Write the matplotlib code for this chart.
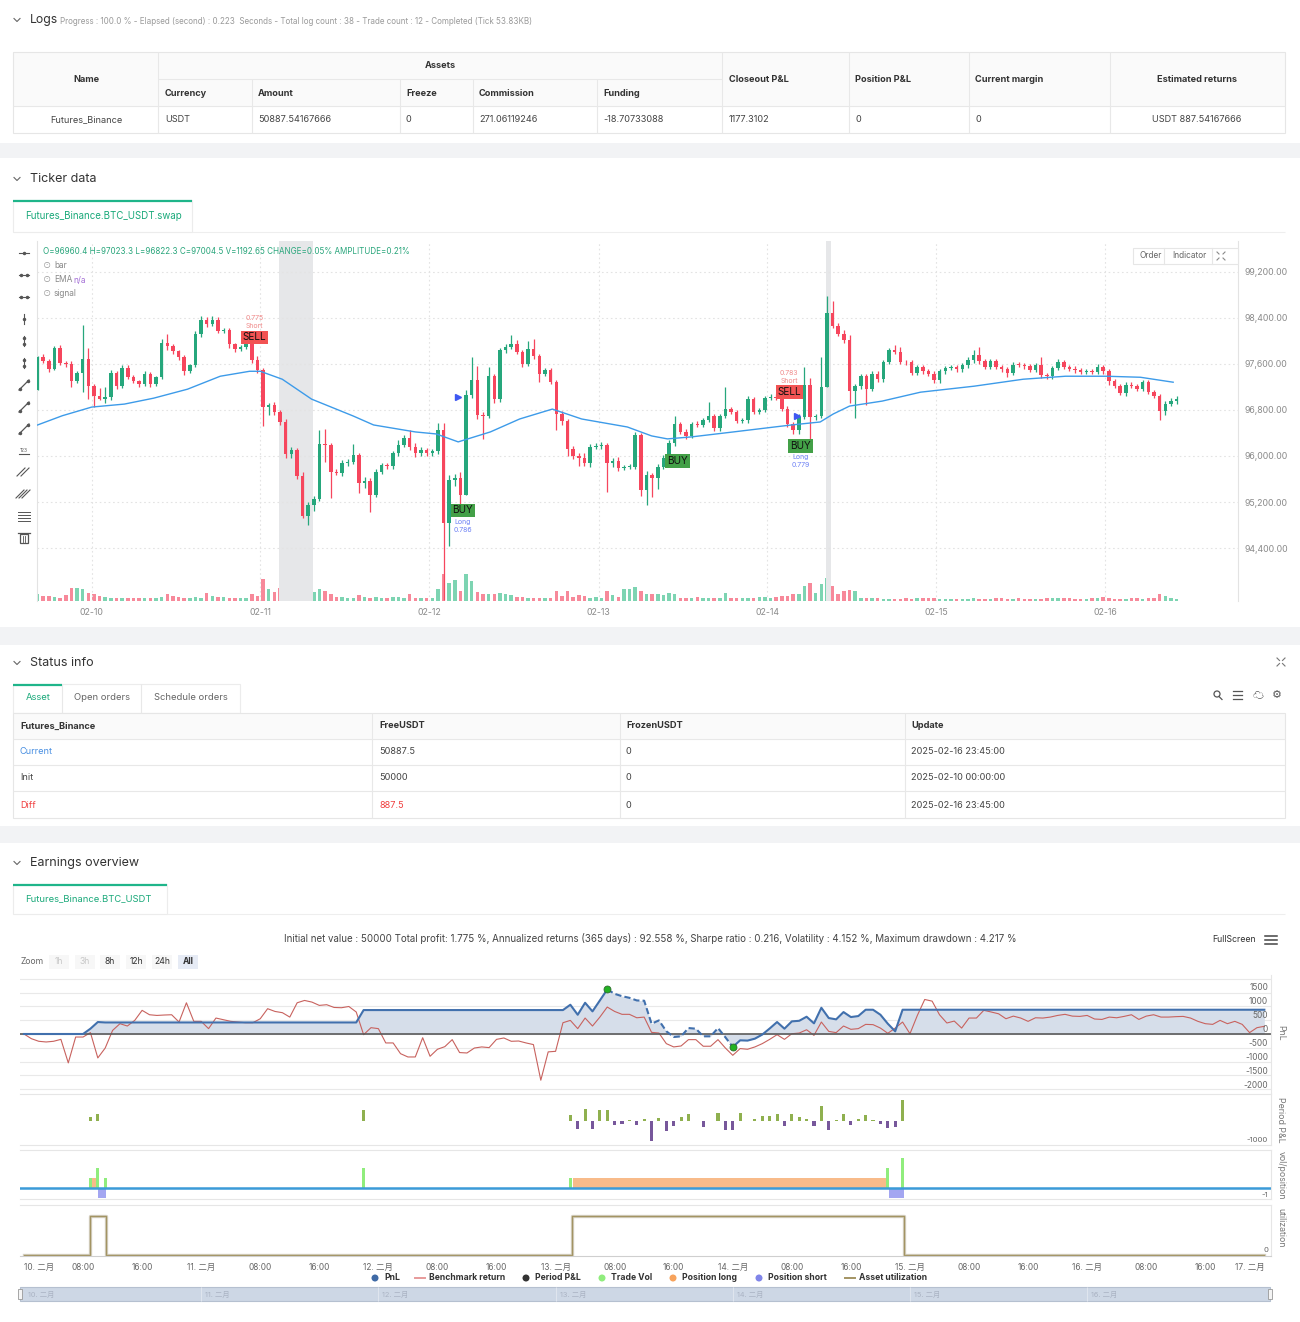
import matplotlib
matplotlib.use('Agg')
import matplotlib.pyplot as plt
from matplotlib.patches import Rectangle, Circle
import numpy as np

plt.rcParams['font.family'] = ['Inter', 'Noto Sans CJK SC', 'DejaVu Sans']

W, H = 1300, 1322

# ---------------- candle data (one bar per ~48 min, 02-10 .. 02-16) ----------------
first_open = 97142
closes = [97719, 97650, 97517, 97875, 97615, 97592, 97304, 97448, 97679, 97217,
          97038, 96998, 97021, 97448, 97217, 97535, 97379, 97304, 97246, 97431,
          97246, 97373, 97967, 97910, 97817, 97714, 97483, 97575, 98112, 98371,
          98302, 98371, 98169, 98192, 97939, 97852, 97892, 97990, 97662, 97488,
          96854,
          96894, 96767, 96583, 96029, 96104, 95654, 94961, 95152, 95250, 96202,
          96190, 95729, 95711, 95873, 95902, 96017, 95527, 95567, 95325, 95729,
          95844, 95827, 96046, 96190, 96317, 96161, 96046, 96104, 96046, 96086,
          96450, 94834, 95584, 95625, 95325, 97056, 97315, 96710, 96700, 97390,
          96986, 97835, 97892, 97950, 97806, 97604, 97852, 97737, 97431, 97488,
          97287, 96721, 96606, 96121, 96006, 95971, 95873, 96161, 96179, 96190,
          95873, 95919, 95798, 95809, 95815, 96363, 95411, 95671,
          95613, 95815, 95971, 96219, 96548, 96421, 96352, 96548, 96540, 96623,
          96698, 96479, 96698, 96808, 96767, 96606, 96617, 96986, 96767, 96796,
          97009, 97021, 97015, 96825, 96548, 96450, 96681, 97229, 96681, 96698,
          97200, 98487, 98267, 98123, 98008, 97125, 97217, 97390, 97171, 97431,
          97333, 97633, 97835, 97806, 97633, 97628, 97448, 97546, 97471, 97431,
          97315, 97471, 97529, 97546, 97506, 97575, 97662, 97748, 97644, 97546,
          97644, 97546, 97506, 97448, 97587, 97580, 97558, 97500, 97575, 97402,
          97385, 97529, 97633, 97546, 97517, 97488, 97460, 97471, 97460, 97546,
          97471, 97298, 97217, 97102, 97240, 97217, 97171, 97287, 97113, 97044,
          96779, 96911, 96952, 96998]
up_wick = [20, 60, 30, 40, 50, 30, 60, 30, 600, 200,
           40, 150, 180, 40, 30, 50, 40, 30, 20, 40,
           30, 20, 60, 150, 40, 30, 40, 30, 60, 60,
           40, 60, 40, 30, 40, 30, 40, 60, 30, 80,
           40,
           30, 50, 40, 60, 50, 40, 60, 50, 60, 250,
           260, 40, 40, 60, 40, 185, 40, 60, 50, 40,
           40, 40, 40, 80, 40, 130, 60, 60, 40, 40,
           130, 120, 80, 60, 100, 90, 400, 250, 60, 150,
           40, 40, 60, 145, 60, 40, 150, 185, 40, 40,
           40, 40, 60, 40, 60, 40, 80, 40, 40, 60,
           40, 40, 60, 40, 40, 60, 40, 60,
           40, 40, 40, 60, 150, 40, 40, 40, 60, 40,
           240, 40, 40, 390, 40, 40, 40, 60, 40, 40,
           40, 60, 60, 40, 40, 40, 40, 320, 125, 40,
           520, 300, 210, 50, 60, 90, 40, 40, 40, 40,
           40, 40, 40, 90, 80, 40, 40, 40, 40, 40,
           40, 40, 40, 40, 40, 40, 60, 100, 145, 40,
           40, 40, 40, 40, 40, 40, 40, 40, 40, 150,
           40, 40, 60, 40, 40, 40, 40, 40, 40, 60,
           40, 40, 40, 40, 40, 40, 40, 40, 40, 40,
           40, 40, 60, 50]
dn_wick = [0, 40, 60, 30, 30, 40, 100, 40, 330, 220,
           180, 30, 80, 40, 60, 40, 40, 30, 40, 30,
           40, 30, 30, 60, 50, 40, 70, 40, 30, 50,
           60, 40, 40, 30, 60, 40, 30, 40, 40, 40,
           330,
           140, 60, 40, 60, 60, 60, 40, 160, 100, 40,
           300, 460, 40, 60, 50, 40, 175, 80, 290, 40,
           40, 60, 60, 40, 40, 60, 60, 40, 40, 40,
           60, 1330, 400, 100, 170, 0, 40, 60, 400, 40,
           60, 40, 40, 40, 40, 60, 40, 60, 150, 40,
           40, 270, 60, 120, 60, 150, 40, 60, 40, 60,
           500, 60, 60, 40, 40, 40, 115, 260,
           320, 180, 40, 40, 40, 40, 60, 40, 40, 40,
           40, 40, 40, 40, 40, 40, 40, 40, 40, 40,
           40, 40, 40, 40, 40, 60, 60, 40, 430, 60,
           40, 0, 40, 40, 40, 200, 470, 60, 280, 40,
           40, 40, 40, 40, 40, 40, 40, 40, 40, 40,
           40, 40, 40, 40, 40, 40, 40, 40, 40, 40,
           40, 40, 40, 80, 40, 40, 40, 40, 40, 40,
           40, 40, 40, 40, 40, 40, 40, 40, 40, 40,
           40, 60, 40, 50, 60, 40, 40, 40, 40, 40,
           160, 60, 40, 40]
volumes = [4000, 3000, 3000, 2400, 2000, 3600, 8000, 8000, 7000, 5000,
           4400, 3000, 2400, 2000, 1600, 1600, 1600, 1600, 1600, 2000,
           1600, 1600, 2400, 4400, 3000, 2400, 2000, 1600, 2400, 2000,
           5000, 3000, 2400, 2400, 2000, 2000, 1600, 1600, 4400, 3000,
           13000,
           7000, 5600, 8000, 5000, 8400, 9000, 8400, 6000, 5600, 7000,
           6000, 4000, 2400, 2400, 2000, 2000, 3600, 2400, 1600, 2400,
           2000, 1600, 2400, 2400, 1600, 4000, 2000, 1600, 2000, 2000,
           7000, 16000, 11000, 12400, 6000, 16400, 12000, 5600, 4400, 4000,
           4400, 5000, 4000, 3600, 2400, 2400, 1600, 1600, 2000, 1600,
           2000, 6000, 3000, 6000, 2400, 3600, 3000, 2000, 2400, 1600,
           6000, 3600, 2400, 7000, 7000, 8400, 6000, 4000,
           4000, 4400, 3600, 5000, 4000, 1600, 1600, 2000, 2400, 1600,
           2000, 1600, 1600, 5000, 2000, 1600, 1600, 2000, 2000, 2400,
           2400, 2000, 2400, 3000, 3000, 4000, 4400, 9000, 11000, 5000,
           10000, 14000, 9000, 4000, 6000, 6400, 6000, 2000, 2000, 1600,
           1600, 1200, 1200, 1200, 1200, 1600, 1200, 1600, 1600, 2000,
           1600, 1200, 1200, 1200, 1200, 1200, 1200, 1600, 1200, 1200,
           1200, 1600, 1600, 1200, 1200, 1600, 1200, 1200, 1200, 1200,
           2000, 2000, 1600, 2000, 1600, 1200, 1200, 1200, 1600, 2000,
           2400, 1600, 1200, 1200, 1200, 1600, 1600, 1200, 2000, 2000,
           4400, 2800, 1600, 1193]

ema_idx = [0, 4.4, 9.6, 15.4, 20.6, 26.6, 32.4, 37.6, 39.5, 43.4, 48.6, 56, 59.6,
           67, 70.7, 74.6, 80.3, 85.5, 91.3, 96.5, 104.6, 108.9, 111.7, 116, 123.4,
           130.7, 133.7, 138.8, 141.1, 144, 149.8, 156.6, 166.1, 174.8, 182.3,
           189.5, 195.6, 201.4]
ema_val = [96539, 96700, 96850, 96902, 97005, 97161, 97386, 97472, 97472, 97334,
           96988, 96694, 96539, 96418, 96383, 96245, 96418, 96643, 96815, 96643,
           96504, 96349, 96297, 96332, 96418, 96504, 96539, 96591, 96729, 96867,
           96954, 97109, 97213, 97334, 97386, 97386, 97368, 97282]

date_labels = ['02-10', '02-11', '02-12', '02-13', '02-14', '02-15', '02-16']
date_idx = [9.6, 39.5, 69.5, 99.5, 129.4, 159.4, 189.4]
price_ticks = [94400, 95200, 96000, 96800, 97600, 98400, 99200]
shaded = [(42.9, 48.8), (139.9, 140.8)]

# signals: candle index, price of label box, side, score, word
sig_idx = [38.5, 75.4, 113.5, 133.3, 135.3]
sig_price = [98060, 95053, 95917, 97109, 96176]
sig_side = ['SELL', 'BUY', 'BUY', 'SELL', 'BUY']
sig_score = ['0.775', '0.786', '', '0.783', '0.779']
sig_word = ['Short', 'Long', '', 'Short', 'Long']
arrow_idx = [74.6, 134.6]
arrow_price = [97023, 96694]

# ---------------- earnings data (hourly, 02-10 00:00 .. 02-17 00:00) ----------------
pnl = ([0] * 9 + [193, 435] + [420] * 35 + [870] * 28 +
       [1063, 700, 1135, 822, 1220, 1619, 1460, 1375, 1315, 1220, 1210, 374, 495,
        100, -109, -85, 217, 193, -85, -85, 217, -120, -471, -230, -240, -169, -20,
        200, 435, 193, 459, 480, 628, 387, 954, 580, 532, 797, 616, 652, 882, 882,
        700, 374, 97] + [882] * 50)
bench = [0, -170, -265, -290, -265, -195, -1050, -110, -110, 50,
         -870, -510, 130, 375, 290, 495, 860, 700, 675, 690,
         700, 435, 1135, 460, 460, 195, 580, 520, 460, 435,
         410, 410, 555, 920, 820, 775, 615, 1135, 1220, 1160,
         1040, 1065, 965, 955, 1000, 800, -25, 230, 195, -325,
         -325, -715, -835, -835, -135, -810, -555, -460, -205, -675,
         -690, -510, -470, -495, -195, -145, -265, -255, -325, -385,
         -1680, -650, -630, 410, 495, 195, 580, 290, 615, 980,
         820, 715, 715, 590, 615, 60, 35, -350, -470, -435,
         -205, -205, -445, -445, -205, -510, -775, -530, -555, -470,
         -350, -195, -25, -195, 10, 35, 155, -50, 435, 95,
         50, 290, 170, 195, 350, 340, 215, 25, 215, 435,
         10, 675, 1255, 1195, 700, 400, 470, 215, 580, 580,
         860, 800, 735, 555, 650, 580, 460, 590, 580, 615,
         675, 715, 650, 640, 675, 545, 530, 615, 590, 640,
         700, 530, 650, 700, 615, 615, 630, 640, 580, 460,
         375, 350, 495, 375, 460, 350, 50, 230, 280]
peak_hour, trough_hour = 79, 96

period_hours = [9, 10, 46, 74, 75, 76, 77, 78, 79, 80, 81, 82, 83, 84, 85, 86, 87, 88,
                89, 90, 92, 94, 95, 96, 97, 98, 99, 100, 101, 102, 103, 104, 105, 106,
                107, 108, 109, 110, 111, 112, 113, 114, 115, 116, 117, 118, 119]
period_pnl = [200, 370, 570, 285, -385, 590, -385, 570, 570, -220, -135, 65, -220, 100,
              -975, 170, -505, -270, 200, 335, -300, 400, -435, -435, 400, -20, 120, 250,
              250, 370, -270, 335, 200, 120, -270, 740, -470, 65, 370, -185, 120, 285,
              30, -135, -335, -300, 1040]
trade_hours = [9, 10, 11, 46, 74, 117, 119]
trade_vol = [1, 2, 1, 2, 1, 2, 3]
pos_hours = [0, 8.9, 10.0, 11.1, 74.3, 117.1, 119.2, 168]
pos_vals = [0, 1, -1, 0, 1, -1, 0, 0]
util_hours = [0, 8.9, 11.1, 74.2, 119.2, 168]
util_vals = [0, 0.75, 0, 0.75, 0, 0]

GREEN = '#26a77c'
RED = '#f6465d'

fig = plt.figure(figsize=(W / 100, H / 100), dpi=100)
bg = fig.add_axes([0, 0, 1, 1], zorder=0)
top = fig.add_axes([0, 0, 1, 1], zorder=20)
for a in (bg, top):
    a.set_xlim(0, W)
    a.set_ylim(H, 0)
    a.axis('off')
top.set_facecolor('none')


def axes_px(x0, y0, x1, y1, z=2):
    ax = fig.add_axes([x0 / W, 1 - y1 / H, (x1 - x0) / W, (y1 - y0) / H], zorder=z)
    ax.set_facecolor('none')
    return ax


def txt(x, y, s, size=7, color='#333333', ha='left', weight='normal', on=None, **kw):
    (on or bg).text(x, y, s, fontsize=size, color=color, ha=ha, va='center',
                    fontweight=weight, **kw)


def hl(y, x0, x1, color='#e8e8e8', lw=0.8):
    bg.plot([x0, x1], [y, y], color=color, lw=lw, solid_capstyle='butt')


def vl(x, y0, y1, color='#e8e8e8', lw=0.8):
    bg.plot([x, x], [y0, y1], color=color, lw=lw, solid_capstyle='butt')


def box(x0, y0, x1, y1, fc, ec='none', lw=0.8, on=None):
    (on or bg).add_patch(Rectangle((x0, y0), x1 - x0, y1 - y0, facecolor=fc, edgecolor=ec, lw=lw))


def chevron(x, y):
    bg.plot([x - 3, x, x + 3], [y - 1.5, y + 1.5, y - 1.5], color='#666', lw=0.8)


# page bands
for y0, y1 in [(143, 158), (627, 645), (826, 843)]:
    box(0, y0, W, y1, '#f2f3f5')

# ---------------- Logs ----------------
chevron(17, 20)
txt(30, 20, 'Logs', 8.8, '#333')
txt(60, 21, 'Progress : 100.0 % - Elapsed (second) : 0.223  Seconds - Total log count : 38 - '
    'Trade count : 12 - Completed (Tick 53.83KB)', 5.8, '#9a9a9a')
box(13, 52, 1285, 106, '#fafafa')
box(13, 52, 1285, 133, 'none', '#e6e6e6')
hl(79, 158, 722)
hl(106, 13, 1285)
for x in [158, 722, 849, 969, 1110]:
    vl(x, 52, 133)
for x in [252, 400, 473, 597]:
    vl(x, 79, 133)
txt(86, 79, 'Name', 6.6, ha='center', weight='bold')
txt(440, 65, 'Assets', 6.6, ha='center', weight='bold')
for x, s in [(165, 'Currency'), (258, 'Amount'), (406, 'Freeze'), (479, 'Commission'), (603, 'Funding')]:
    txt(x, 93, s, 6.6, weight='bold')
for x, s in [(729, 'Closeout P&L'), (855, 'Position P&L'), (975, 'Current margin')]:
    txt(x, 79, s, 6.6, weight='bold')
txt(1197, 79, 'Estimated returns', 6.6, ha='center', weight='bold')
txt(86, 120, 'Futures_Binance', 6.6, '#444', ha='center')
for x, s in [(165, 'USDT'), (258, '50887.54167666'), (406, '0'), (479, '271.06119246'),
             (603, '-18.70733088'), (729, '1177.3102'), (855, '0'), (975, '0')]:
    txt(x, 120, s, 6.6, '#444')
txt(1197, 120, 'USDT 887.54167666', 6.6, '#444', ha='center')

# ---------------- Ticker data ----------------
chevron(17, 179)
txt(30, 179, 'Ticker data', 9, '#333')
box(13, 200, 192, 232, 'white', '#ececec')
hl(201, 13, 192, '#1fb58a', 1.6)
hl(232, 192, 1285, '#eeeeee')
txt(25, 216, 'Futures_Binance.BTC_USDT.swap', 7, '#1aa97a')

ax = axes_px(37, 241, 1238, 601, z=3)
n = len(closes)
idx = np.arange(n)
c = np.array(closes, dtype=float)
o = np.array([first_open] + closes[:-1], dtype=float)
hi = np.maximum(o, c) + np.array(up_wick)
lo = np.minimum(o, c) - np.array(dn_wick)
col = np.where(c >= o, GREEN, RED)
for a, b in shaded:
    ax.axvspan(a, b, color='#e6e7e9', lw=0, zorder=0)
ax.vlines(idx, lo, hi, colors=col, lw=0.9, zorder=2)
ax.bar(idx, np.maximum(np.abs(c - o), 10), bottom=np.minimum(o, c), width=0.62,
       color=col, zorder=3)
ax.plot(ema_idx, ema_val, color='#3d9be9', lw=1.0, zorder=4)
ax.set_xlim(-0.1, 212.9)
ax.set_ylim(93480, 99736)
ax.set_yticks(price_ticks)
ax.set_yticklabels([f'{p:,.2f}' for p in price_ticks])
ax.yaxis.tick_right()
ax.set_xticks(date_idx)
ax.set_xticklabels(date_labels)
ax.tick_params(length=0, labelsize=6.3, labelcolor='#8a8a8a', pad=5)
ax.grid(True, color='#e3e3e3', ls=(0, (1.5, 2.5)), lw=0.8)
ax.set_axisbelow(True)
for s in ['top', 'bottom']:
    ax.spines[s].set_visible(False)
for s in ['left', 'right']:
    ax.spines[s].set_color('#e3e3e3')

for i, p, side, sc, wd in zip(sig_idx, sig_price, sig_side, sig_score, sig_word):
    if side == 'SELL':
        ax.text(i, p, 'SELL', fontsize=7.2, color='#111', ha='center', va='center', zorder=6,
                bbox=dict(boxstyle='square,pad=0.18', fc='#f25353', ec='none'))
        ax.plot(i, p, marker='v', ms=3.5, color='#f25353', zorder=5)
        ax.annotate(wd, (i, p), xytext=(0, 8), textcoords='offset points', fontsize=5,
                    color='#f08a8a', ha='center', va='center')
        ax.annotate(sc, (i, p), xytext=(0, 14), textcoords='offset points', fontsize=5,
                    color='#f08a8a', ha='center', va='center')
    else:
        ax.text(i, p, 'BUY', fontsize=7.2, color='#111', ha='center', va='center', zorder=6,
                bbox=dict(boxstyle='square,pad=0.18', fc='#43a047', ec='none'))
        if wd:
            ax.annotate(wd, (i, p), xytext=(0, -8), textcoords='offset points', fontsize=5,
                        color='#6f83f5', ha='center', va='center')
            ax.annotate(sc, (i, p), xytext=(0, -14), textcoords='offset points', fontsize=5,
                        color='#6f83f5', ha='center', va='center')
ax.plot(arrow_idx, arrow_price, '>', color='#3f58f2', ms=4, ls='none', zorder=6)

axv = axes_px(37, 571, 1238, 601, z=2)
axv.bar(idx, volumes, width=0.62, color=np.where(c >= o, '#7dd4b2', '#f7899a'))
axv.set_xlim(-0.1, 212.9)
axv.set_ylim(0, 18000)
axv.axis('off')

# chart legend / toolbar (drawn on top of the shading)
txt(43, 252, 'O=96960.4 H=97023.3 L=96822.3 C=97004.5 V=1192.65 CHANGE=0.05% AMPLITUDE=0.21%',
    5.8, '#2aa67c', on=top)
for y, s in [(266, 'bar'), (280, 'EMA'), (294, 'signal')]:
    txt(43, y, '⊙', 6, '#999', on=top)
    txt(54, y, s, 6, '#888', on=top)
txt(73, 280, 'n/a', 6, '#a46fd6', on=top)
box(1133, 248, 1238, 264, 'white', '#e6e6e6', on=top)
top.plot([1164, 1164], [248, 264], color='#e6e6e6', lw=0.8)
top.plot([1212, 1212], [248, 264], color='#e6e6e6', lw=0.8)
txt(1151, 256, 'Order', 6, '#666', ha='center', on=top)
txt(1189, 256, 'Indicator', 6, '#666', ha='center', on=top)
for dx, dy in [(-1, -1), (1, -1), (-1, 1), (1, 1)]:
    top.plot([1221 + dx * 2, 1221 + dx * 4], [256 + dy * 2, 256 + dy * 4], color='#888', lw=0.8)
tool_y = [253, 275, 297, 319, 341, 363, 385, 407, 429, 451, 472, 494, 516, 537]
for k, y in enumerate(tool_y):
    cc = '#555'
    if k < 3:
        bg.plot([19, 29], [y, y], color=cc, lw=0.8)
        bg.plot([24] if k == 0 else [21, 27], [y] * (1 if k == 0 else 2), 'o', ms=1.5, color=cc)
    elif k < 6:
        bg.plot([24, 24], [y - 5, y + 5], color=cc, lw=0.8)
        bg.plot([24] if k == 3 else [24, 24], [y] if k == 3 else [y - 3, y + 3], 'o', ms=1.5, color=cc)
    elif k < 9:
        bg.plot([19, 29], [y + 5, y - 5], color=cc, lw=0.9)
        bg.plot([20, 28], [y + 4, y - 4], 'o', ms=1.5, color=cc)
    elif k == 9:
        bg.plot([19, 29], [y + 3, y + 3], color=cc, lw=0.8)
        txt(24, y, '123', 3.5, cc, ha='center')
    elif k < 12:
        for off in ([-2, 2] if k == 10 else [-3, 0, 3]):
            bg.plot([19 + off, 27 + off], [y + 4, y - 4], color=cc, lw=0.8)
    elif k == 12:
        for yy in [y - 4, y - 1, y + 2, y + 5]:
            bg.plot([18, 30], [yy, yy], color=cc, lw=0.7)
    else:
        bg.add_patch(Rectangle((20, y - 3), 8, 9, fc='none', ec=cc, lw=0.9))
        bg.plot([18, 30], [y - 4, y - 4], color=cc, lw=0.9)
        bg.plot([23, 23], [y - 1, y + 5], color=cc, lw=0.6)
        bg.plot([25, 25], [y - 1, y + 5], color=cc, lw=0.6)

# ---------------- Status info ----------------
chevron(17, 663)
txt(30, 663, 'Status info', 9, '#333')
for dx, dy in [(-1, -1), (1, -1), (-1, 1), (1, 1)]:
    bg.plot([1281 + dx * 1.5, 1281 + dx * 4], [662 + dy * 1.5, 662 + dy * 4], color='#777', lw=0.8)
box(13, 684, 240, 713, 'white', '#ececec')
vl(62, 684, 713)
vl(141, 684, 713)
hl(685, 13, 62, '#1fb58a', 1.6)
txt(38, 698, 'Asset', 6.8, '#1aa97a', ha='center')
txt(102, 698, 'Open orders', 6.8, '#666', ha='center')
txt(191, 698, 'Schedule orders', 6.8, '#666', ha='center')
bg.add_patch(Circle((1217, 694), 3, fc='none', ec='#555', lw=0.9))
bg.plot([1219, 1222], [696.5, 699.5], color='#555', lw=0.9)
for yy in [691, 695, 699]:
    bg.plot([1233, 1242], [yy, yy], color='#555', lw=0.9)
txt(1258, 695, '☁', 8, '#555', ha='center')
txt(1277, 695, '⚙', 8, '#555', ha='center')
box(13, 713, 1285, 739, '#fafafa')
box(13, 713, 1285, 818, 'none', '#e6e6e6')
for y in [739, 765, 791]:
    hl(y, 13, 1285)
for x in [372, 620, 905]:
    vl(x, 713, 818)
for x, s in [(20, 'Futures_Binance'), (379, 'FreeUSDT'), (626, 'FrozenUSDT'), (911, 'Update')]:
    txt(x, 726, s, 6.6, weight='bold')
rows = [('Current', '#4a90e2', '50887.5', '#444', '2025-02-16 23:45:00'),
        ('Init', '#444', '50000', '#444', '2025-02-10 00:00:00'),
        ('Diff', '#f03e3e', '887.5', '#f03e3e', '2025-02-16 23:45:00')]
for (a, ca, b, cb, d), y in zip(rows, [752, 778, 805]):
    txt(20, y, a, 6.6, ca)
    txt(379, y, b, 6.6, cb)
    txt(626, y, '0', 6.6, '#444')
    txt(911, y, d, 6.6, '#444')

# ---------------- Earnings overview ----------------
chevron(17, 863)
txt(30, 863, 'Earnings overview', 9, '#333')
box(13, 884, 167, 914, 'white', '#ececec')
hl(885, 13, 167, '#1fb58a', 1.6)
hl(914, 167, 1285, '#eeeeee')
txt(25, 899, 'Futures_Binance.BTC_USDT', 6.8, '#1aa97a')
txt(650, 939, 'Initial net value : 50000 Total profit: 1.775 %, Annualized returns (365 days) : '
    '92.558 %, Sharpe ratio : 0.216, Volatility : 4.152 %, Maximum drawdown : 4.217 %',
    7, '#444', ha='center')
txt(1256, 940, 'FullScreen', 6.3, '#333', ha='right')
for yy in [936, 940, 944]:
    bg.plot([1265, 1277], [yy, yy], color='#444', lw=1.1)
txt(32, 962, 'Zoom', 6.2, '#666', ha='center')
for x, s in [(59, '1h'), (85, '3h'), (110, '8h'), (136, '12h'), (162, '24h'), (188, 'All')]:
    box(x - 10, 955, x + 10, 969, '#e6ebf5' if s == 'All' else '#f7f7f7')
    tc = '#c8c8c8' if s in ('1h', '3h') else '#333'
    txt(x, 962, s, 6.2, tc, ha='center', weight='bold' if s == 'All' else 'normal')

hours = np.arange(len(pnl))
XL = (-0.54, 168.9)

axp = axes_px(20, 975, 1271, 1093)
for g in range(-2000, 2001, 500):
    axp.axhline(g, color='#e9e9e9', lw=0.8, zorder=0)
axp.fill_between(hours, pnl, 0, color='#d6deea', lw=0, zorder=1)
axp.plot(hours, bench, color='#c8625e', lw=0.8, zorder=2)
pnl_a = np.array(pnl, dtype=float)
m1 = hours <= peak_hour
m2 = (hours >= peak_hour) & (hours <= trough_hour)
m3 = hours >= trough_hour
axp.plot(hours[m1], pnl_a[m1], color='#4170ad', lw=1.5, zorder=3)
axp.plot(hours[m2], pnl_a[m2], color='#4170ad', lw=1.5, ls=(0, (3, 1.5)), zorder=3)
axp.plot(hours[m3], pnl_a[m3], color='#4170ad', lw=1.5, zorder=3)
axp.axhline(0, color='#5a5a5a', lw=1.2, zorder=2)
axp.plot([peak_hour, trough_hour], [pnl[peak_hour], pnl[trough_hour]], 'o', ms=5,
         mfc='#22b322', mec='#2e6b2e', mew=0.6, zorder=4, ls='none')
axp.set_xlim(*XL)
axp.set_ylim(-2145, 2145)
axp.set_xticks([])
axp.set_yticks([])
for s in axp.spines.values():
    s.set_visible(False)
axp.spines['right'].set_visible(True)
axp.spines['right'].set_color('#e6e6e6')
for v, y in zip([1500, 1000, 500, 0, -500, -1000, -1500, -2000],
                [988, 1001, 1015, 1029, 1043, 1057, 1071, 1085]):
    txt(1268, y, str(v), 6, '#666', ha='right', on=top)

ax2 = axes_px(20, 1094, 1271, 1145)
ppv = np.array(period_pnl)
ax2.bar(period_hours, ppv, width=0.42, color=np.where(ppv >= 0, '#8fb04f', '#77579b'))
ax2.set_xlim(*XL)
ax2.set_ylim(-1200, 1350)
ax2.set_xticks([])
ax2.set_yticks([])
for s in ax2.spines.values():
    s.set_color('#e6e6e6')
ax2.spines['left'].set_visible(False)
txt(1268, 1140, '-1000', 5.5, '#666', ha='right', on=top)

ax3 = axes_px(20, 1150, 1271, 1199)
ph = np.array(pos_hours)
pv = np.array(pos_vals, dtype=float)
ax3.fill_between(ph, np.clip(pv, 0, None), 0, step='post', color='#f8bb8a', lw=0)
ax3.fill_between(ph, np.clip(pv, None, 0), 0, step='post', color='#a3a6f1', lw=0)
ax3.bar(trade_hours, trade_vol, width=0.4, color='#90ed7d')
ax3.axhline(0, color='#3b9bd8', lw=1.8)
ax3.set_xlim(*XL)
ax3.set_ylim(-1.15, 3.8)
ax3.set_xticks([])
ax3.set_yticks([])
for s in ax3.spines.values():
    s.set_color('#e6e6e6')
ax3.spines['left'].set_visible(False)
txt(1268, 1195, '-1', 5.5, '#666', ha='right', on=top)

ax4 = axes_px(20, 1205, 1271, 1256)
ax4.step(util_hours, util_vals, where='post', color='#d8d4c8', lw=2.4)
ax4.step(util_hours, util_vals, where='post', color='#a39463', lw=1.0)
ax4.set_xlim(*XL)
ax4.set_ylim(-0.01, 0.97)
ax4.set_yticks([])
xt = list(range(0, 169, 8))
ax4.set_xticks(xt)
ax4.set_xticklabels([f'{10 + h // 24}. 二月' if h % 24 == 0 else f'{h % 24:02d}:00' for h in xt])
ax4.tick_params(axis='x', length=0, labelsize=6, labelcolor='#666', pad=5)
ax4.get_xticklabels()[0].set_ha('left')
ax4.get_xticklabels()[-1].set_ha('right')
for s in ax4.spines.values():
    s.set_color('#e6e6e6')
ax4.spines['left'].set_visible(False)
ax4.spines['bottom'].set_color('#cfcfcf')
txt(1268, 1250, '0', 5.5, '#666', ha='right', on=top)

for s, y in [('PnL', 1033), ('Period P&L', 1120), ('vol/position', 1175), ('utilization', 1228)]:
    txt(1281, y, s, 6.3, '#777', ha='center', rotation=270)

# legend
legend = [('PnL', 'dot', '#3f6aa6', 375), ('Benchmark return', 'line', '#e79a9a', 420),
          ('Period P&L', 'dot', '#333333', 526), ('Trade Vol', 'dot', '#90ed7d', 602),
          ('Position long', 'dot', '#f7a35c', 673), ('Position short', 'dot', '#8085e9', 759),
          ('Asset utilization', 'line', '#a39463', 850)]
for name, kind, cc, x in legend:
    if kind == 'dot':
        bg.add_patch(Circle((x, 1278), 3.5, fc=cc, ec='none'))
    else:
        bg.plot([x - 5, x + 5], [1278, 1278], color=cc, lw=1.4)
    txt(x + 9, 1278, name, 6.2, '#333', weight='bold')

# navigator
box(20, 1287, 1270, 1301, '#cdd7e5', '#b5c0d0')
for k in range(7):
    x = 24 + k * 177.2
    if k:
        vl(x, 1287, 1301, '#dfe5ee')
    txt(x + 4, 1294, f'{10 + k}. 二月', 5.3, '#aab3c3')
for x in [20, 1270]:
    bg.add_patch(Rectangle((x - 2, 1289), 4, 10, fc='#f4f4f4', ec='#999', lw=0.6))

fig.savefig('out.png', dpi=100)
